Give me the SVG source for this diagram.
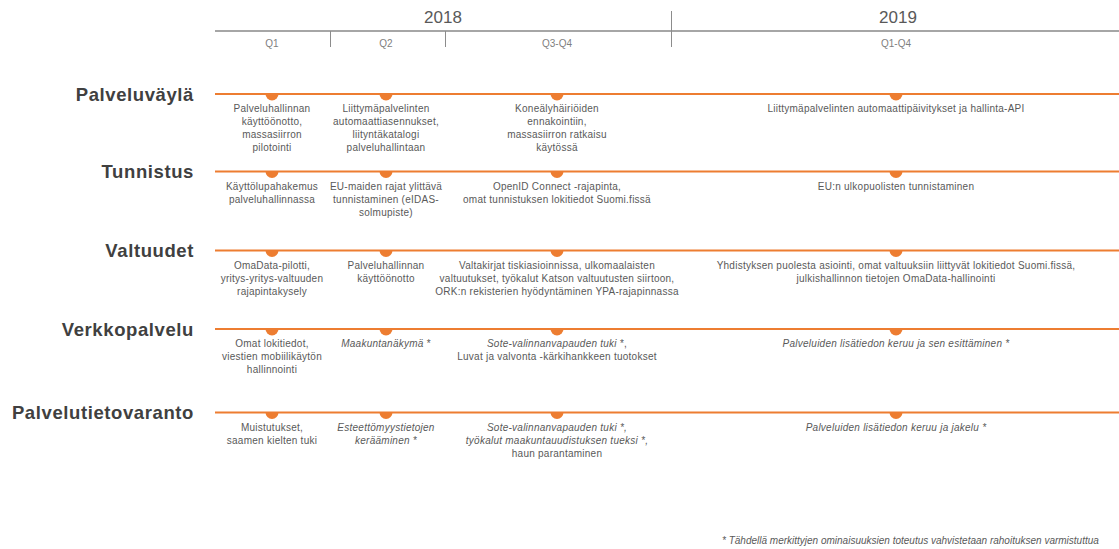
<svg xmlns="http://www.w3.org/2000/svg" width="1119" height="549" viewBox="0 0 1119 549">
<style>
text{font-family:"Liberation Sans",Arial,sans-serif}
.title{font-weight:bold;font-size:18.5px;fill:#404040;text-anchor:end;letter-spacing:0.6px}
.cell{font-size:10px;fill:#595959;text-anchor:middle;letter-spacing:0.25px}
.it{font-style:italic}
.lane{stroke:#ED7D31;stroke-width:2;fill:none}
.mk{fill:#ED7D31}
.year{font-size:17px;fill:#595959;text-anchor:middle}
.q{font-size:10px;fill:#7f7f7f;text-anchor:middle}
.axis{stroke:#a6a6a6;stroke-width:2}
.div{stroke:#8c8c8c;stroke-width:1}
.foot{font-size:10px;fill:#595959;font-style:italic}
</style>
<rect width="1119" height="549" fill="#ffffff"/>
<g id="header">
<line class="axis" x1="215" y1="31" x2="1119" y2="31"/>
<line class="div" x1="330.5" y1="31" x2="330.5" y2="47"/>
<line class="div" x1="445.5" y1="31" x2="445.5" y2="47"/>
<line class="div" x1="671.5" y1="11" x2="671.5" y2="47"/>
<text class="year" x="443" y="23">2018</text>
<text class="year" x="898" y="23">2019</text>
<text class="q" x="272" y="46.5">Q1</text>
<text class="q" x="386" y="46.5">Q2</text>
<text class="q" x="557" y="46.5">Q3-Q4</text>
<text class="q" x="896" y="46.5">Q1-Q4</text>
</g>
<g id="connectors">
<line class="lane" x1="215" y1="94" x2="1119" y2="94"/>
<line class="lane" x1="215" y1="171.5" x2="1119" y2="171.5"/>
<line class="lane" x1="215" y1="250.5" x2="1119" y2="250.5"/>
<line class="lane" x1="215" y1="329" x2="1119" y2="329"/>
<line class="lane" x1="215" y1="412.5" x2="1119" y2="412.5"/>
</g>
<g id="titles">
<text id="t-palveluvayla" class="title" x="194" y="100.5">Palveluväylä</text>
<text id="t-tunnistus" class="title" x="194" y="178">Tunnistus</text>
<text id="t-valtuudet" class="title" x="194" y="257">Valtuudet</text>
<text id="t-verkkopalvelu" class="title" x="194" y="335.5">Verkkopalvelu</text>
<text id="t-palvelutietovaranto" class="title" x="194" y="419">Palvelutietovaranto</text>
</g>
<!-- Palveluväylä -->
<g id="pv-q1"><path class="mk" d="M265.5 94 A6.5 6.5 0 0 0 278.5 94 Z"/>
<text class="cell" x="272" y="112">Palveluhallinnan</text><text class="cell" x="272" y="125">käyttöönotto,</text><text class="cell" x="272" y="138">massasiirron</text><text class="cell" x="272" y="151">pilotointi</text></g>
<g id="pv-q2"><path class="mk" d="M379.5 94 A6.5 6.5 0 0 0 392.5 94 Z"/>
<text class="cell" x="386" y="112">Liittymäpalvelinten</text><text class="cell" x="386" y="125">automaattiasennukset,</text><text class="cell" x="386" y="138">liityntäkatalogi</text><text class="cell" x="386" y="151">palveluhallintaan</text></g>
<g id="pv-q3"><path class="mk" d="M550.5 94 A6.5 6.5 0 0 0 563.5 94 Z"/>
<text class="cell" x="557" y="112">Koneälyhäiriöiden</text><text class="cell" x="557" y="125">ennakointiin,</text><text class="cell" x="557" y="138">massasiirron ratkaisu</text><text class="cell" x="557" y="151">käytössä</text></g>
<g id="pv-2019"><path class="mk" d="M889.5 94 A6.5 6.5 0 0 0 902.5 94 Z"/>
<text class="cell" x="896" y="112">Liittymäpalvelinten automaattipäivitykset ja hallinta-API</text></g>
<!-- Tunnistus -->
<g id="tu-q1"><path class="mk" d="M265.5 171.5 A6.5 6.5 0 0 0 278.5 171.5 Z"/>
<text class="cell" x="272" y="189.5">Käyttölupahakemus</text><text class="cell" x="272" y="202.5">palveluhallinnassa</text></g>
<g id="tu-q2"><path class="mk" d="M379.5 171.5 A6.5 6.5 0 0 0 392.5 171.5 Z"/>
<text class="cell" x="386" y="189.5">EU-maiden rajat ylittävä</text><text class="cell" x="386" y="202.5">tunnistaminen (eIDAS-</text><text class="cell" x="386" y="215.5">solmupiste)</text></g>
<g id="tu-q3"><path class="mk" d="M550.5 171.5 A6.5 6.5 0 0 0 563.5 171.5 Z"/>
<text class="cell" x="557" y="189.5">OpenID Connect -rajapinta,</text><text class="cell" x="557" y="202.5">omat tunnistuksen lokitiedot Suomi.fissä</text></g>
<g id="tu-2019"><path class="mk" d="M889.5 171.5 A6.5 6.5 0 0 0 902.5 171.5 Z"/>
<text class="cell" x="896" y="189.5">EU:n ulkopuolisten tunnistaminen</text></g>
<!-- Valtuudet -->
<g id="va-q1"><path class="mk" d="M265.5 250.5 A6.5 6.5 0 0 0 278.5 250.5 Z"/>
<text class="cell" x="272" y="268.5">OmaData-pilotti,</text><text class="cell" x="272" y="281.5">yritys-yritys-valtuuden</text><text class="cell" x="272" y="294.5">rajapintakysely</text></g>
<g id="va-q2"><path class="mk" d="M379.5 250.5 A6.5 6.5 0 0 0 392.5 250.5 Z"/>
<text class="cell" x="386" y="268.5">Palveluhallinnan</text><text class="cell" x="386" y="281.5">käyttöönotto</text></g>
<g id="va-q3"><path class="mk" d="M550.5 250.5 A6.5 6.5 0 0 0 563.5 250.5 Z"/>
<text class="cell" x="557" y="268.5">Valtakirjat tiskiasioinnissa, ulkomaalaisten</text><text class="cell" x="557" y="281.5">valtuutukset, työkalut Katson valtuutusten siirtoon,</text><text class="cell" x="557" y="294.5">ORK:n rekisterien hyödyntäminen YPA-rajapinnassa</text></g>
<g id="va-2019"><path class="mk" d="M889.5 250.5 A6.5 6.5 0 0 0 902.5 250.5 Z"/>
<text class="cell" x="896" y="268.5">Yhdistyksen puolesta asiointi, omat valtuuksiin liittyvät lokitiedot Suomi.fissä,</text><text class="cell" x="896" y="281.5">julkishallinnon tietojen OmaData-hallinointi</text></g>
<!-- Verkkopalvelu -->
<g id="ve-q1"><path class="mk" d="M265.5 329 A6.5 6.5 0 0 0 278.5 329 Z"/>
<text class="cell" x="272" y="347">Omat lokitiedot,</text><text class="cell" x="272" y="360">viestien mobiilikäytön</text><text class="cell" x="272" y="373">hallinnointi</text></g>
<g id="ve-q2"><path class="mk" d="M379.5 329 A6.5 6.5 0 0 0 392.5 329 Z"/>
<text class="cell" x="386" y="347"><tspan class="it">Maakuntanäkymä</tspan> *</text></g>
<g id="ve-q3"><path class="mk" d="M550.5 329 A6.5 6.5 0 0 0 563.5 329 Z"/>
<text class="cell" x="557" y="347"><tspan class="it">Sote-valinnanvapauden tuki</tspan> *,</text><text class="cell" x="557" y="360">Luvat ja valvonta -kärkihankkeen tuotokset</text></g>
<g id="ve-2019"><path class="mk" d="M889.5 329 A6.5 6.5 0 0 0 902.5 329 Z"/>
<text class="cell it" x="896" y="347">Palveluiden lisätiedon keruu ja sen esittäminen *</text></g>
<!-- Palvelutietovaranto -->
<g id="pt-q1"><path class="mk" d="M265.5 412.5 A6.5 6.5 0 0 0 278.5 412.5 Z"/>
<text class="cell" x="272" y="430.5">Muistutukset,</text><text class="cell" x="272" y="443.5">saamen kielten tuki</text></g>
<g id="pt-q2"><path class="mk" d="M379.5 412.5 A6.5 6.5 0 0 0 392.5 412.5 Z"/>
<text class="cell it" x="386" y="430.5">Esteettömyystietojen</text><text class="cell it" x="386" y="443.5">kerääminen *</text></g>
<g id="pt-q3"><path class="mk" d="M550.5 412.5 A6.5 6.5 0 0 0 563.5 412.5 Z"/>
<text class="cell it" x="557" y="430.5">Sote-valinnanvapauden tuki *,</text><text class="cell it" x="557" y="443.5">työkalut maakuntauudistuksen tueksi *,</text><text class="cell" x="557" y="456.5">haun parantaminen</text></g>
<g id="pt-2019"><path class="mk" d="M889.5 412.5 A6.5 6.5 0 0 0 902.5 412.5 Z"/>
<text class="cell it" x="896" y="430.5">Palveluiden lisätiedon keruu ja jakelu *</text></g>
<g id="footer">
<text class="foot" x="722" y="544">* Tähdellä merkittyjen ominaisuuksien toteutus vahvistetaan rahoituksen varmistuttua</text>
</g>
</svg>
